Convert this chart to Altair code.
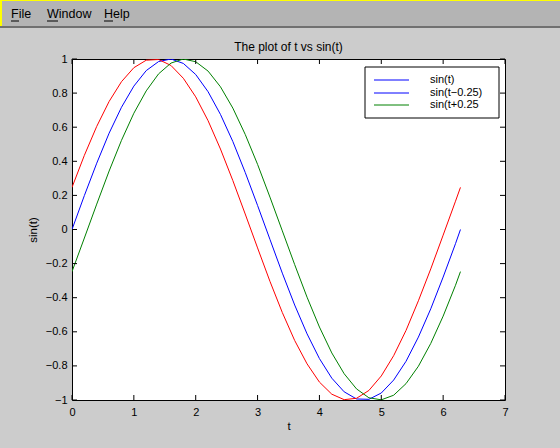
import altair as alt
import pandas as pd

# ---- data ----
t = [0.0, 0.2, 0.4, 0.6, 0.8, 1.0, 1.2, 1.4, 1.6, 1.8, 2.0, 2.2, 2.4, 2.6, 2.8, 3.0,
     3.2, 3.4, 3.6, 3.8, 4.0, 4.2, 4.4, 4.6, 4.8, 5.0, 5.2, 5.4, 5.6, 5.8, 6.0, 6.2, 6.28]
sin_t = [0.0, 0.199, 0.389, 0.565, 0.717, 0.841, 0.932, 0.985, 1.0, 0.974, 0.909, 0.808,
         0.675, 0.516, 0.335, 0.141, -0.058, -0.256, -0.443, -0.612, -0.757, -0.872,
         -0.952, -0.994, -0.996, -0.959, -0.883, -0.773, -0.631, -0.465, -0.279, -0.083, 0.0]
sin_t_plus = [0.247, 0.435, 0.605, 0.751, 0.867, 0.949, 0.993, 0.997, 0.962, 0.887, 0.778,
              0.638, 0.472, 0.287, 0.091, -0.108, -0.304, -0.487, -0.651, -0.788, -0.895,
              -0.966, -0.998, -0.990, -0.944, -0.859, -0.740, -0.592, -0.418, -0.231,
              -0.033, 0.166, 0.247]
sin_t_minus = [-0.247, -0.050, 0.149, 0.343, 0.523, 0.682, 0.813, 0.913, 0.976, 1.0, 0.984,
               0.929, 0.837, 0.712, 0.558, 0.382, 0.190, -0.008, -0.206, -0.397, -0.572,
               -0.724, -0.846, -0.935, -0.987, -0.999, -0.972, -0.904, -0.802, -0.668,
               -0.508, -0.327, -0.247]
series_names = ["sin(t)", "sin(t+0.25)", "sin(t-0.25)"]
series_colors = ["#0000ff", "#ff0000", "#008000"]

legend_labels = ["sin(t)", "sin(t\u22120.25)", "sin(t+0.25"]
legend_colors = ["#0000ff", "#0000ff", "#008000"]

x_ticks = [0, 1, 2, 3, 4, 5, 6, 7]
y_ticks = [-1.0, -0.8, -0.6, -0.4, -0.2, 0.0, 0.2, 0.4, 0.6, 0.8, 1.0]

menu_items = ["File", "Window", "Help"]
chart_title = "The plot of t vs sin(t)"

# ---- tables ----
rows = []
for name, vals in zip(series_names, [sin_t, sin_t_plus, sin_t_minus]):
    for i, (tt, v) in enumerate(zip(t, vals)):
        rows.append({"t": tt, "v": v, "series": name, "i": i})
df = pd.DataFrame(rows)

W, H = 433, 341
PL, PT = 72, 59
FONT = "Liberation Sans"

xs = alt.Scale(domain=[0, 7], nice=False, zero=False)
ys = alt.Scale(domain=[-1, 1], nice=False, zero=False)

x_axis = alt.Axis(values=x_ticks, format="d", ticks=False, domain=False, grid=False,
                  labelFlush=False, labelPadding=6, titlePadding=3, labelFontSize=11,
                  titleFontSize=11.5, titleFontWeight="normal", labelFont=FONT, titleFont=FONT,
                  labelColor="black", titleColor="black")
y_axis = alt.Axis(values=y_ticks, format=".1~f", ticks=False, domain=False, grid=False,
                  labelFlush=False, labelPadding=5, titlePadding=7, labelFontSize=11,
                  titleFontSize=11.5, titleFontWeight="normal", labelFont=FONT, titleFont=FONT,
                  labelColor="black", titleColor="black")

X = lambda: alt.X("t:Q", scale=xs, title="t", axis=x_axis)
Y = lambda: alt.Y("v:Q", scale=ys, title="sin(t)", axis=y_axis)

lines = alt.Chart(df).mark_line(strokeWidth=1, clip=True).encode(
    x=X(), y=Y(),
    color=alt.Color("series:N", scale=alt.Scale(domain=series_names, range=series_colors),
                    legend=None),
    detail="series:N",
    order="i:Q",
)

dx = pd.DataFrame({"t": x_ticks})
dy = pd.DataFrame({"v": y_ticks})
TL = 5
xb = alt.Chart(dx).mark_rule(color="black", strokeWidth=1).encode(
    x=X(), y=alt.value(H), y2=alt.value(H - TL))
xt = alt.Chart(dx).mark_rule(color="black", strokeWidth=1).encode(
    x=X(), y=alt.value(0), y2=alt.value(TL))
yl = alt.Chart(dy).mark_rule(color="black", strokeWidth=1).encode(
    y=Y(), x=alt.value(0), x2=alt.value(TL))
yr = alt.Chart(dy).mark_rule(color="black", strokeWidth=1).encode(
    y=Y(), x=alt.value(W), x2=alt.value(W - TL))

# ---- legend (box + entries) ----
leg_box = alt.Chart(pd.DataFrame({"a": [0]})).mark_rect(
    fill="white", stroke="black", strokeWidth=1).encode(
    x=alt.value(293), x2=alt.value(427), y=alt.value(8), y2=alt.value(59))
ldf = pd.DataFrame({"label": legend_labels, "color": legend_colors,
                    "py": [21, 34, 46]})
leg_lines = alt.Chart(ldf).mark_rule(strokeWidth=1).encode(
    x=alt.value(302), x2=alt.value(337),
    y=alt.Y("py:Q", scale=None),
    color=alt.Color("color:N", scale=None))
leg_text = alt.Chart(ldf).mark_text(align="left", baseline="middle", fontSize=11,
                                    font=FONT, color="black").encode(
    x=alt.value(358), y=alt.Y("py:Q", scale=None), text="label:N")

# ---- title as text ----
title_mark = alt.Chart(pd.DataFrame({"label": [chart_title]})).mark_text(
    align="center", baseline="alphabetic", fontSize=12, font=FONT, color="black").encode(
    x=alt.value(W / 2), y=alt.value(-8), text="label:N")

# ---- menu bar ----
menu_bg = alt.Chart(pd.DataFrame({"a": [0]})).mark_rect(fill="#b4b4b4").encode(
    x=alt.value(-PL), x2=alt.value(560 - PL), y=alt.value(-PT), y2=alt.value(-PT + 26))
menu_line = alt.Chart(pd.DataFrame({"a": [0]})).mark_rect(fill="#707070").encode(
    x=alt.value(-PL), x2=alt.value(560 - PL), y=alt.value(-PT + 26), y2=alt.value(-PT + 28))
menu_yel_top = alt.Chart(pd.DataFrame({"a": [0]})).mark_rect(fill="#ffff00").encode(
    x=alt.value(-PL), x2=alt.value(560 - PL), y=alt.value(-PT), y2=alt.value(-PT + 1))
menu_yel_left = alt.Chart(pd.DataFrame({"a": [0]})).mark_rect(fill="#ffff00").encode(
    x=alt.value(-PL), x2=alt.value(-PL + 2), y=alt.value(-PT), y2=alt.value(-PT + 26))
mdf = pd.DataFrame({"name": menu_items, "px": [11 - PL, 47 - PL, 104 - PL],
                    "ux2": [19 - PL, 58 - PL, 113 - PL]})
menu_text = alt.Chart(mdf).mark_text(align="left", baseline="alphabetic", fontSize=12.5,
                                     font=FONT, color="black").encode(
    x=alt.X("px:Q", scale=None), y=alt.value(-PT + 18), text="name:N")
menu_ul = alt.Chart(mdf).mark_rule(color="black", strokeWidth=1).encode(
    x=alt.X("px:Q", scale=None), x2="ux2:Q", y=alt.value(-PT + 21))

chart = alt.layer(
    lines, xb, xt, yl, yr, leg_box, leg_lines, leg_text, title_mark,
    menu_bg, menu_line, menu_yel_top, menu_yel_left, menu_text, menu_ul
).properties(
    width=W, height=H,
    autosize=alt.AutoSizeParams(type="none"),
    padding={"left": PL, "top": PT, "right": 560 - PL - W, "bottom": 448 - PT - H},
    background="#cccccc",
).configure_view(
    fill="white", stroke="black", strokeWidth=1
)

chart.save("out.html", embed_options={"renderer": "svg", "actions": False})
